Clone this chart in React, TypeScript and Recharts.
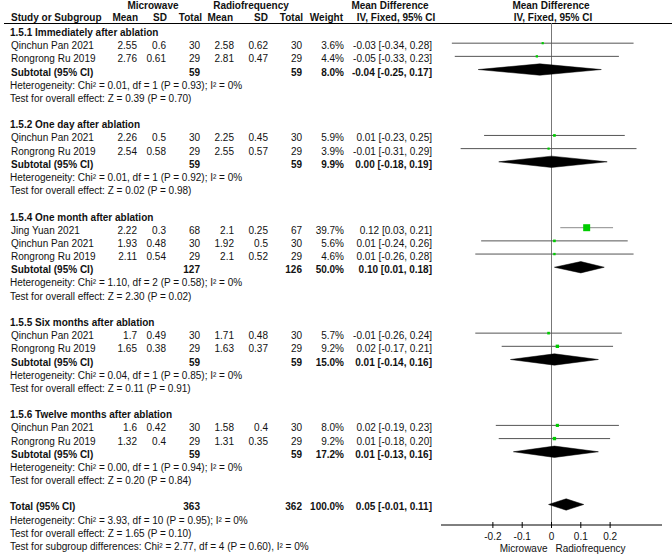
import React from "react";
import { ComposedChart, XAxis, YAxis, Scatter, ReferenceLine } from "recharts";

const groupTitles = [
  "1.5.1 Immediately after ablation",
  "1.5.2 One day after ablation",
  "1.5.4 One month after ablation",
  "1.5.5 Six months after ablation",
  "1.5.6 Twelve months after ablation",
];

// group, name, mw mean, mw sd, mw n, rf mean, rf sd, rf n, weight, md, lo, hi
const studies = [
  { g: 0, name: "Qinchun Pan 2021", mw: ["2.55", "0.6", "30"], rf: ["2.58", "0.62", "30"], weight: 3.6, md: -0.03, lo: -0.34, hi: 0.28 },
  { g: 0, name: "Rongrong Ru 2019", mw: ["2.76", "0.61", "29"], rf: ["2.81", "0.47", "29"], weight: 4.4, md: -0.05, lo: -0.33, hi: 0.23 },
  { g: 1, name: "Qinchun Pan 2021", mw: ["2.26", "0.5", "30"], rf: ["2.25", "0.45", "30"], weight: 5.9, md: 0.01, lo: -0.23, hi: 0.25 },
  { g: 1, name: "Rongrong Ru 2019", mw: ["2.54", "0.58", "29"], rf: ["2.55", "0.57", "29"], weight: 3.9, md: -0.01, lo: -0.31, hi: 0.29 },
  { g: 2, name: "Jing Yuan 2021", mw: ["2.22", "0.3", "68"], rf: ["2.1", "0.25", "67"], weight: 39.7, md: 0.12, lo: 0.03, hi: 0.21 },
  { g: 2, name: "Qinchun Pan 2021", mw: ["1.93", "0.48", "30"], rf: ["1.92", "0.5", "30"], weight: 5.6, md: 0.01, lo: -0.24, hi: 0.26 },
  { g: 2, name: "Rongrong Ru 2019", mw: ["2.11", "0.54", "29"], rf: ["2.1", "0.52", "29"], weight: 4.6, md: 0.01, lo: -0.26, hi: 0.28 },
  { g: 3, name: "Qinchun Pan 2021", mw: ["1.7", "0.49", "30"], rf: ["1.71", "0.48", "30"], weight: 5.7, md: -0.01, lo: -0.26, hi: 0.24 },
  { g: 3, name: "Rongrong Ru 2019", mw: ["1.65", "0.38", "29"], rf: ["1.63", "0.37", "29"], weight: 9.2, md: 0.02, lo: -0.17, hi: 0.21 },
  { g: 4, name: "Qinchun Pan 2021", mw: ["1.6", "0.42", "30"], rf: ["1.58", "0.4", "30"], weight: 8.0, md: 0.02, lo: -0.19, hi: 0.23 },
  { g: 4, name: "Rongrong Ru 2019", mw: ["1.32", "0.4", "29"], rf: ["1.31", "0.35", "29"], weight: 9.2, md: 0.01, lo: -0.18, hi: 0.2 },
];

const subtotals = [
  { mwN: "59", rfN: "59", weight: "8.0%", md: -0.04, lo: -0.25, hi: 0.17, het: "Chi² = 0.01, df = 1 (P = 0.93); I² = 0%", z: "Z = 0.39 (P = 0.70)" },
  { mwN: "59", rfN: "59", weight: "9.9%", md: 0.0, lo: -0.18, hi: 0.19, het: "Chi² = 0.01, df = 1 (P = 0.92); I² = 0%", z: "Z = 0.02 (P = 0.98)" },
  { mwN: "127", rfN: "126", weight: "50.0%", md: 0.1, lo: 0.01, hi: 0.18, het: "Chi² = 1.10, df = 2 (P = 0.58); I² = 0%", z: "Z = 2.30 (P = 0.02)" },
  { mwN: "59", rfN: "59", weight: "15.0%", md: 0.01, lo: -0.14, hi: 0.16, het: "Chi² = 0.04, df = 1 (P = 0.85); I² = 0%", z: "Z = 0.11 (P = 0.91)" },
  { mwN: "59", rfN: "59", weight: "17.2%", md: 0.01, lo: -0.13, hi: 0.16, het: "Chi² = 0.00, df = 1 (P = 0.94); I² = 0%", z: "Z = 0.20 (P = 0.84)" },
];

const overall = { mwN: "363", rfN: "362", weight: "100.0%", md: 0.05, lo: -0.01, hi: 0.11 };
const overallNotes = [
  "Heterogeneity: Chi² = 3.93, df = 10 (P = 0.95); I² = 0%",
  "Test for overall effect: Z = 1.65 (P = 0.10)",
  "Test for subgroup differences: Chi² = 2.77, df = 4 (P = 0.60), I² = 0%",
];

const xTicks = [-0.2, -0.1, 0, 0.1, 0.2];

const FONT = "'Liberation Sans', Arial, sans-serif";
const FS = 10;
const ROW0 = 33;
const ROWH = 13.18;
const MARK_SHIFT = 3;
const PLOT_TOP = 23;
const PLOT_BOTTOM = 525;

const fmt = (v: number) => v.toFixed(2);
const ci = (md: number, lo: number, hi: number) => `${fmt(md)} [${fmt(lo)}, ${fmt(hi)}]`;

// lay the rows out
type Row = { r: number; kind: string; data?: any; text?: string };
const rows: Row[] = [];
const studyRows: { r: number; s: any }[] = [];
const diamondRows: { r: number; d: any }[] = [];
let r = 0;
groupTitles.forEach((title, gi) => {
  rows.push({ r: r++, kind: "title", text: title });
  studies.filter((s) => s.g === gi).forEach((s) => {
    rows.push({ r, kind: "study", data: s });
    studyRows.push({ r, s });
    r++;
  });
  rows.push({ r, kind: "sub", data: subtotals[gi] });
  diamondRows.push({ r, d: subtotals[gi] });
  r++;
  rows.push({ r: r++, kind: "note", text: "Heterogeneity: " + subtotals[gi].het });
  rows.push({ r: r++, kind: "note", text: "Test for overall effect: " + subtotals[gi].z });
  r++;
});
rows.push({ r, kind: "total", data: overall });
diamondRows.push({ r, d: overall });
r++;
overallNotes.forEach((t) => rows.push({ r: r++, kind: "note", text: t }));

const yTop = (PLOT_TOP - (ROW0 - MARK_SHIFT)) / ROWH;
const yBottom = (PLOT_BOTTOM - (ROW0 - MARK_SHIFT)) / ROWH;
const HALF = 0.43;

function Txt({ y, x, align = "left", bold = false, children }: any) {
  const w = 260;
  const left = align === "left" ? x : align === "right" ? x - w : x - w / 2;
  return (
    <div
      style={{
        position: "absolute",
        top: y - 6,
        left,
        width: w,
        textAlign: align,
        fontSize: FS,
        lineHeight: "12px",
        fontWeight: bold ? "bold" : "normal",
        whiteSpace: "nowrap",
        color: "#111",
      }}
    >
      {children}
    </div>
  );
}

const COLS = { mwMean: 137, mwSD: 166, mwN: 200, rfMean: 234, rfSD: 268, rfN: 302, weight: 344, md: 432 };

function TableRow({ row }: { row: Row }) {
  const y = ROW0 + row.r * ROWH;
  if (row.kind === "title") return <Txt y={y} x={10} bold>{row.text}</Txt>;
  if (row.kind === "note") return <Txt y={y} x={10}>{row.text}</Txt>;
  const d = row.data;
  if (row.kind === "study") {
    return (
      <>
        <Txt y={y} x={11}>{d.name}</Txt>
        <Txt y={y} x={COLS.mwMean} align="right">{d.mw[0]}</Txt>
        <Txt y={y} x={COLS.mwSD} align="right">{d.mw[1]}</Txt>
        <Txt y={y} x={COLS.mwN} align="right">{d.mw[2]}</Txt>
        <Txt y={y} x={COLS.rfMean} align="right">{d.rf[0]}</Txt>
        <Txt y={y} x={COLS.rfSD} align="right">{d.rf[1]}</Txt>
        <Txt y={y} x={COLS.rfN} align="right">{d.rf[2]}</Txt>
        <Txt y={y} x={COLS.weight} align="right">{d.weight.toFixed(1)}%</Txt>
        <Txt y={y} x={COLS.md} align="right">{ci(d.md, d.lo, d.hi)}</Txt>
      </>
    );
  }
  return (
    <>
      <Txt y={y} x={row.kind === "total" ? 10 : 11} bold>{row.kind === "total" ? "Total (95% CI)" : "Subtotal (95% CI)"}</Txt>
      <Txt y={y} x={COLS.mwN} align="right" bold>{d.mwN}</Txt>
      <Txt y={y} x={COLS.rfN} align="right" bold>{d.rfN}</Txt>
      <Txt y={y} x={COLS.weight} align="right" bold>{d.weight}</Txt>
      <Txt y={y} x={COLS.md} align="right" bold>{ci(d.md, d.lo, d.hi)}</Txt>
    </>
  );
}

function AxisTick({ x, y, payload }: any) {
  const v = payload.value;
  const label = v === 0 ? "0" : v.toFixed(1);
  return (
    <g>
      <line x1={x} x2={x} y1={y - 3} y2={y + 3} stroke="#000" />
      <text x={x} y={y + 15} textAnchor="middle" fontSize={FS} fontFamily={FONT} fill="#111">
        {label}
      </text>
      {v === 0 && (
        <>
          <text x={x - 4} y={y + 27} textAnchor="end" fontSize={FS} fontFamily={FONT} fill="#111">Microwave</text>
          <text x={x + 4} y={y + 27} textAnchor="start" fontSize={FS} fontFamily={FONT} fill="#111">Radiofrequency</text>
        </>
      )}
    </g>
  );
}

const squareData = studyRows.map(({ r, s }) => ({ x: s.md, y: r, w: s.weight }));

function Square({ cx, cy, payload }: any) {
  const side = Math.max(2.2, 1.11 * Math.sqrt(payload.w));
  return <rect x={cx - side / 2} y={cy - side / 2} width={side} height={side} fill="#00cc00" />;
}

function Diamond(props: any) {
  const pts = (props.points || []).map((p: any) => `${p.x},${p.y}`).join(" ");
  return <polygon points={pts} fill="#000" stroke="#000" strokeWidth={0.5} />;
}

export default function App() {
  return (
    <div style={{ position: "absolute", left: 0, top: 0, width: 672, height: 560, fontFamily: FONT, background: "#fff" }}>
      <style>{"body{margin:0}"}</style>
      {/* header */}
      <Txt y={6} x={153} align="center" bold>Microwave</Txt>
      <Txt y={6} x={251} align="center" bold>Radiofrequency</Txt>
      <Txt y={6} x={390} align="center" bold>Mean Difference</Txt>
      <Txt y={6} x={551} align="center" bold>Mean Difference</Txt>
      <Txt y={18} x={11} bold>Study or Subgroup</Txt>
      <Txt y={18} x={COLS.mwMean + 1} align="right" bold>Mean</Txt>
      <Txt y={18} x={COLS.mwSD + 1} align="right" bold>SD</Txt>
      <Txt y={18} x={COLS.mwN + 2} align="right" bold>Total</Txt>
      <Txt y={18} x={COLS.rfMean - 1} align="right" bold>Mean</Txt>
      <Txt y={18} x={COLS.rfSD} align="right" bold>SD</Txt>
      <Txt y={18} x={COLS.rfN + 1} align="right" bold>Total</Txt>
      <Txt y={18} x={COLS.weight - 1} align="right" bold>Weight</Txt>
      <Txt y={18} x={396} align="center" bold>IV, Fixed, 95% CI</Txt>
      <Txt y={18} x={553} align="center" bold>IV, Fixed, 95% CI</Txt>
      <div style={{ position: "absolute", top: PLOT_TOP, left: 4, width: 668, height: 1, background: "#000" }} />

      {rows.map((row, i) => (
        <TableRow key={i} row={row} />
      ))}

      <div style={{ position: "absolute", left: 0, top: 0 }}>
        <ComposedChart width={672} height={560} margin={{ top: PLOT_TOP, right: 10, bottom: 0, left: 441 }}>
          <XAxis
            type="number"
            dataKey="x"
            domain={[-0.377, 0.377]}
            ticks={xTicks}
            interval={0}
            allowDataOverflow
            height={35}
            tickSize={0}
            tickMargin={0}
            tickLine={false}
            axisLine={{ stroke: "#000" }}
            tick={<AxisTick />}
          />
          <YAxis type="number" dataKey="y" domain={[yTop, yBottom]} reversed hide allowDataOverflow />
          <ReferenceLine x={0} stroke="#777" strokeWidth={1} />
          {studyRows.map(({ r, s }, i) => (
            <ReferenceLine
              key={"ci" + i}
              segment={[{ x: s.lo, y: r }, { x: s.hi, y: r }]}
              stroke={s.weight > 30 ? "#8c8c8c" : "#555"}
              strokeWidth={1}
            />
          ))}
          <Scatter data={squareData} shape={<Square />} isAnimationActive={false} />
          {diamondRows.map(({ r, d }, i) => (
            <Scatter
              key={"dm" + i}
              data={[
                { x: d.lo, y: r },
                { x: d.md, y: r - HALF },
                { x: d.hi, y: r },
                { x: d.md, y: r + HALF },
              ]}
              shape={() => <g />}
              line={(p: any) => <Diamond {...p} />}
              lineType="joint"
              isAnimationActive={false}
            />
          ))}
        </ComposedChart>
      </div>
    </div>
  );
}
